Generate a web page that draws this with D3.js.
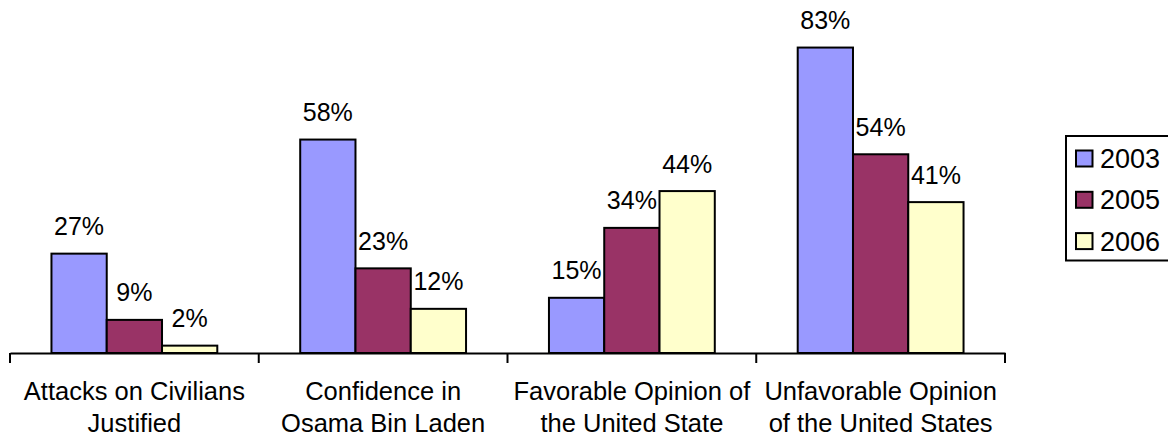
<!DOCTYPE html>
<html>
<head>
<meta charset="utf-8">
<script src="https://cdn.jsdelivr.net/npm/d3@7"></script>
<style>
    body { margin: 0; background: #fff; }
    svg { display: block; font-family: 'Liberation Sans', Arial, sans-serif; }
</style>
</head>
<body>
<svg></svg>
<script>
const w = 1168;
const h = 438;

// data
const categories = [
    ['Attacks on Civilians', 'Justified'],
    ['Confidence in', 'Osama Bin Laden'],
    ['Favorable Opinion of', 'the United State'],
    ['Unfavorable Opinion', 'of the United States']
];
const years = ['2003', '2005', '2006'];
const v2003 = [27, 58, 15, 83];
const v2005 = [9, 23, 34, 54];
const v2006 = [2, 12, 44, 41];
const colors = ['#9999FF', '#993366', '#FFFFCC'];

const series = [v2003, v2005, v2006];

const svg = d3.select('svg').attr('width', w).attr('height', h);

const baseY = 353;
const left = 10;
const right = 1005;

const x0 = d3
    .scaleBand()
    .domain(d3.range(categories.length))
    .range([left, right]);
const x1 = d3
    .scaleBand()
    .domain(years)
    .range([0, x0.bandwidth()])
    .paddingOuter(0.75);
const y = d3
    .scaleLinear()
    .domain([0, 90])
    .range([baseY, baseY - 90 * 3.68]);

// bars
const groups = svg
    .selectAll('g.grp')
    .data(categories.map((c, i) => i))
    .enter()
    .append('g')
    .attr('class', 'grp')
    .attr('transform', (i) => 'translate(' + x0(i) + ',0)');

groups
    .selectAll('rect')
    .data((i) => years.map((yr, k) => ({ yr: yr, k: k, v: series[k][i] })))
    .enter()
    .append('rect')
    .attr('x', (d) => x1(d.yr))
    .attr('y', (d) => y(d.v))
    .attr('width', x1.bandwidth())
    .attr('height', (d) => baseY - y(d.v))
    .attr('fill', (d) => colors[d.k])
    .attr('stroke', '#000')
    .attr('stroke-width', 2);

groups
    .selectAll('text.lbl')
    .data((i) => years.map((yr, k) => ({ yr: yr, k: k, v: series[k][i] })))
    .enter()
    .append('text')
    .attr('class', 'lbl')
    .attr('x', (d) => x1(d.yr) + x1.bandwidth() / 2)
    .attr('y', (d) => y(d.v) - 18.5)
    .attr('text-anchor', 'middle')
    .attr('font-size', 25)
    .text((d) => d.v + '%');

// x axis
const xAxis = d3
    .axisBottom(x0)
    .tickValues([])
    .tickSizeOuter(0);
const ax = svg
    .append('g')
    .attr('transform', 'translate(0,' + baseY + ')')
    .call(xAxis);
ax.select('.domain').attr('stroke', '#000').attr('stroke-width', 2);

ax.selectAll('line.tk')
    .data(d3.range(categories.length + 1))
    .enter()
    .append('line')
    .attr('class', 'tk')
    .attr('x1', (i) => left + i * x0.step())
    .attr('x2', (i) => left + i * x0.step())
    .attr('y1', 0)
    .attr('y2', 10)
    .attr('stroke', '#000')
    .attr('stroke-width', 2);

const catText = svg
    .selectAll('text.cat')
    .data(categories)
    .enter()
    .append('text')
    .attr('class', 'cat')
    .attr('text-anchor', 'middle')
    .attr('font-size', 25.5)
    .attr('transform', (d, i) => 'translate(' + (x0(i) + x0.bandwidth() / 2) + ',400)');
catText
    .selectAll('tspan')
    .data((d) => d)
    .enter()
    .append('tspan')
    .attr('x', 0)
    .attr('y', (d, j) => j * 32)
    .text((d) => d);

// legend
const lg = svg.append('g');
lg.append('rect')
    .attr('x', 1066)
    .attr('y', 136)
    .attr('width', 120)
    .attr('height', 124.5)
    .attr('fill', '#fff')
    .attr('stroke', '#000')
    .attr('stroke-width', 2);

const items = lg
    .selectAll('g.item')
    .data(years)
    .enter()
    .append('g')
    .attr('class', 'item')
    .attr('transform', (d, i) => 'translate(1076,' + (158.5 + i * 41.3) + ')');
items
    .append('rect')
    .attr('x', 0)
    .attr('y', -8)
    .attr('width', 16.5)
    .attr('height', 16)
    .attr('fill', (d, i) => colors[i])
    .attr('stroke', '#000')
    .attr('stroke-width', 2);
items
    .append('text')
    .attr('x', 24)
    .attr('y', 9.5)
    .attr('font-size', 27)
    .text((d) => d);
</script>
</body>
</html>
